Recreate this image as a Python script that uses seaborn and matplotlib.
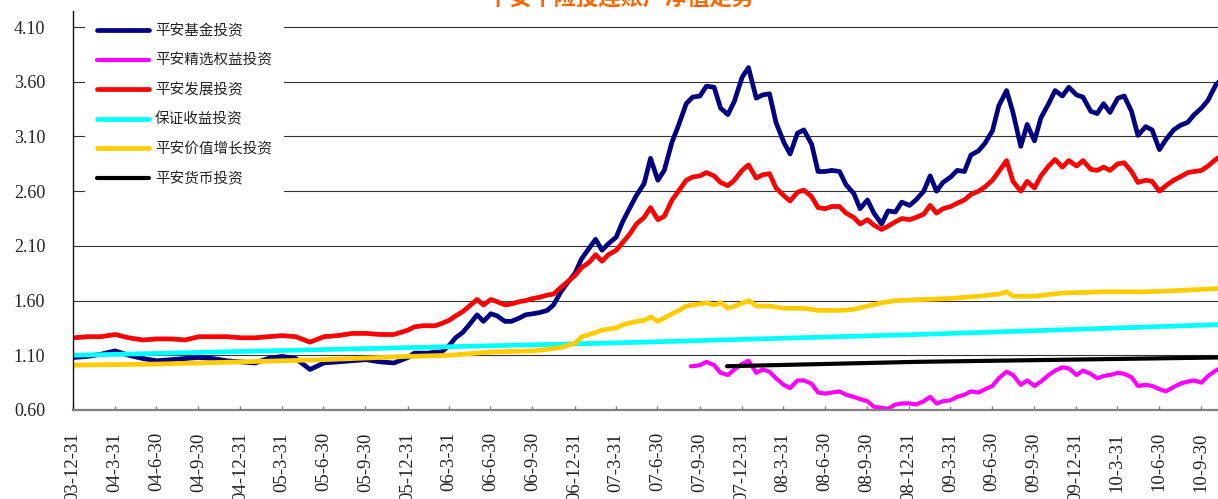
import matplotlib
matplotlib.use('Agg')
import matplotlib.pyplot as plt
import seaborn as sns
import pandas as pd

sns.set_style('white')
plt.rcParams['font.family'] = ['Noto Sans CJK SC', 'DejaVu Sans']

title = '平安个险投连账户净值走势'

# blue / red share one date grid: monthly 2004-2005, then 1st and 15th of each month
main_dates = list(pd.date_range('2004-01-01', '2005-12-01', freq='MS')) + \
    list(pd.date_range('2006-01-01', '2010-11-15', freq='SMS'))

fund = [1.08, 1.09, 1.11, 1.14, 1.10, 1.07, 1.05, 1.06, 1.07, 1.08, 1.07, 1.05,
        1.04, 1.03, 1.07, 1.09, 1.07, 0.97, 1.03, 1.04, 1.05, 1.06, 1.04, 1.03,
        # 2006
        1.08, 1.12, 1.12, 1.12, 1.13, 1.13, 1.19, 1.26, 1.31, 1.38, 1.47, 1.41,
        1.48, 1.46, 1.41, 1.41, 1.44, 1.47, 1.48, 1.49, 1.51, 1.56, 1.68, 1.76,
        # 2007
        1.85, 1.98, 2.08, 2.16, 2.06, 2.12, 2.18, 2.32, 2.45, 2.56, 2.67, 2.90,
        2.70, 2.79, 3.05, 3.20, 3.40, 3.46, 3.47, 3.56, 3.55, 3.36, 3.30, 3.42,
        # 2008
        3.64, 3.73, 3.45, 3.48, 3.49, 3.23, 3.05, 2.94, 3.13, 3.16, 3.03, 2.78,
        2.78, 2.79, 2.78, 2.66, 2.58, 2.44, 2.52, 2.40, 2.30, 2.42, 2.41, 2.50,
        # 2009
        2.47, 2.52, 2.60, 2.74, 2.60, 2.68, 2.73, 2.79, 2.78, 2.93, 2.97, 3.04,
        3.15, 3.38, 3.52, 3.32, 3.01, 3.21, 3.06, 3.27, 3.40, 3.52, 3.47, 3.55,
        # 2010
        3.48, 3.46, 3.33, 3.31, 3.40, 3.32, 3.45, 3.47, 3.33, 3.11, 3.19, 3.16,
        2.98, 3.07, 3.16, 3.20, 3.23, 3.30, 3.36, 3.43, 3.57, 3.63]

growth = [1.26, 1.27, 1.27, 1.29, 1.26, 1.24, 1.25, 1.25, 1.24, 1.27, 1.27, 1.27,
          1.26, 1.26, 1.27, 1.28, 1.27, 1.22, 1.27, 1.28, 1.30, 1.30, 1.29, 1.29,
          # 2006
          1.33, 1.36, 1.37, 1.37, 1.37, 1.39, 1.42, 1.46, 1.50, 1.55, 1.61, 1.56,
          1.61, 1.59, 1.56, 1.57, 1.59, 1.60, 1.62, 1.63, 1.65, 1.66, 1.72, 1.77,
          # 2007
          1.83, 1.90, 1.95, 2.02, 1.96, 2.02, 2.06, 2.13, 2.21, 2.30, 2.36, 2.45,
          2.34, 2.37, 2.52, 2.60, 2.70, 2.73, 2.74, 2.77, 2.74, 2.68, 2.65, 2.70,
          # 2008
          2.79, 2.84, 2.72, 2.75, 2.76, 2.63, 2.56, 2.51, 2.59, 2.61, 2.55, 2.45,
          2.44, 2.46, 2.46, 2.40, 2.36, 2.30, 2.34, 2.29, 2.25, 2.28, 2.32, 2.35,
          # 2009
          2.34, 2.36, 2.39, 2.47, 2.40, 2.44, 2.46, 2.49, 2.52, 2.57, 2.60, 2.64,
          2.70, 2.78, 2.88, 2.69, 2.60, 2.69, 2.63, 2.74, 2.83, 2.89, 2.82, 2.88,
          # 2010
          2.83, 2.88, 2.80, 2.79, 2.82, 2.79, 2.85, 2.86, 2.78, 2.68, 2.70, 2.69,
          2.60, 2.65, 2.70, 2.73, 2.77, 2.78, 2.79, 2.83, 2.89, 2.93]

select_dates = [pd.Timestamp('2007-09-11')] + list(pd.date_range('2007-09-15', '2010-11-15', freq='SMS'))
select = [1.00,
          1.00, 1.01, 1.04, 1.01, 0.94, 0.92, 0.97,
          1.02, 1.05, 0.94, 0.97, 0.95, 0.89, 0.83, 0.80, 0.87, 0.87, 0.84, 0.76,
          0.75, 0.76, 0.77, 0.74, 0.72, 0.70, 0.68, 0.63, 0.62, 0.61, 0.65, 0.66,
          0.66, 0.65, 0.68, 0.72, 0.66, 0.68, 0.69, 0.72, 0.74, 0.77, 0.76, 0.79,
          0.82, 0.89, 0.95, 0.92, 0.83, 0.87, 0.82, 0.86, 0.92, 0.96, 0.99, 0.98,
          0.92, 0.96, 0.93, 0.89, 0.91, 0.92, 0.94, 0.93, 0.90, 0.82, 0.83, 0.82,
          0.79, 0.77, 0.81, 0.84, 0.86, 0.87, 0.85, 0.91, 0.96, 0.99]

value_dates = ['2003-12-31', '2004-07-01', '2005-01-01', '2005-07-01', '2006-01-01',
               '2006-04-01', '2006-07-01', '2006-10-01', '2006-12-01', '2007-01-01',
               '2007-01-16', '2007-02-16', '2007-03-01', '2007-04-01', '2007-04-16',
               '2007-05-16', '2007-06-01', '2007-06-16', '2007-07-01', '2007-08-01',
               '2007-08-16', '2007-09-01', '2007-10-01', '2007-10-16', '2007-11-01',
               '2007-11-16', '2007-12-01', '2007-12-16', '2008-01-16', '2008-02-01',
               '2008-03-01', '2008-04-01', '2008-05-16', '2008-06-16', '2008-08-01',
               '2008-09-01', '2008-10-01', '2008-11-01', '2008-12-01', '2009-02-01',
               '2009-04-01', '2009-06-01', '2009-07-16', '2009-08-01', '2009-08-16',
               '2009-10-01', '2009-12-01', '2010-03-01', '2010-06-01', '2010-08-01',
               '2010-11-06']
value = [1.01, 1.02, 1.04, 1.06, 1.09, 1.10, 1.13, 1.14, 1.17, 1.21,
         1.27, 1.31, 1.33, 1.35, 1.38, 1.41, 1.42, 1.45, 1.41, 1.48,
         1.51, 1.55, 1.57, 1.58, 1.56, 1.58, 1.53, 1.55, 1.60, 1.55,
         1.55, 1.53, 1.53, 1.51, 1.51, 1.52, 1.55, 1.58, 1.60, 1.61,
         1.62, 1.64, 1.66, 1.68, 1.64, 1.64, 1.67, 1.68, 1.68, 1.69,
         1.71]

guaranteed_dates = ['2003-12-31', '2005-12-31', '2007-03-01', '2009-01-16', '2010-11-06']
guaranteed = [1.10, 1.17, 1.21, 1.29, 1.38]

money_dates = ['2007-11-29', '2009-01-16', '2010-11-06']
money = [1.00, 1.04, 1.08]

names = ['平安基金投资', '平安精选权益投资', '平安发展投资', '保证收益投资', '平安价值增长投资', '平安货币投资']
colors = ['#000080', '#FF00FF', '#FF0000', '#00FFFF', '#FFCC00', '#000000']
widths = [3.4, 3.0, 3.4, 3.4, 3.4, 3.0]

series = [(main_dates, fund), (select_dates, select), (main_dates, growth),
          (guaranteed_dates, guaranteed), (value_dates, value), (money_dates, money)]

tick_dates = ['2003-12-31', '2004-03-31', '2004-06-30', '2004-09-30', '2004-12-31',
              '2005-03-31', '2005-06-30', '2005-09-30', '2005-12-31', '2006-03-31',
              '2006-06-30', '2006-09-30', '2006-12-31', '2007-03-31', '2007-06-30',
              '2007-09-30', '2007-12-31', '2008-03-31', '2008-06-30', '2008-09-30',
              '2008-12-31', '2009-03-31', '2009-06-30', '2009-09-30', '2009-12-31',
              '2010-03-31', '2010-06-30', '2010-09-30']
tick_labels = ['03-12-31', '04-3-31', '04-6-30', '04-9-30', '04-12-31', '05-3-31',
               '05-6-30', '05-9-30', '05-12-31', '06-3-31', '06-6-30', '06-9-30',
               '06-12-31', '07-3-31', '07-6-30', '07-9-30', '07-12-31', '08-3-31',
               '08-6-30', '08-9-30', '08-12-31', '09-3-31', '09-6-30', '09-9-30',
               '09-12-31', '10-3-31', '10-6-30', '10-9-30']
y_ticks = [0.60, 1.10, 1.60, 2.10, 2.60, 3.10, 3.60, 4.10]

fig = plt.figure(figsize=(12.18, 4.99), dpi=100)
ax = fig.add_axes([73 / 1218, 89 / 499, 1 - 73 / 1218, 399 / 499])

for (d, v), name, c, w in zip(series, names, colors, widths):
    df = pd.DataFrame({'date': pd.to_datetime(d), 'nav': v})
    sns.lineplot(data=df, x='date', y='nav', ax=ax, color=c, lw=w, label=name, sort=False)

ax.set_xlim(pd.Timestamp('2003-12-31'), pd.Timestamp('2010-11-06'))
ax.set_ylim(0.60, 4.247)
ax.set_xlabel('')
ax.set_ylabel('')

ax.set_yticks(y_ticks)
ax.set_yticklabels([f'{v:.2f}' for v in y_ticks], fontfamily='Liberation Serif', fontsize=13, color='#222222')
ax.tick_params(axis='y', length=0, pad=20)
ax.yaxis.grid(True, color='#333333', lw=0.8)
ax.xaxis.grid(False)

ax.set_xticks(pd.to_datetime(tick_dates))
ax.set_xticklabels(tick_labels, rotation=90, va='top', ha='center',
                   fontfamily='Liberation Serif', fontsize=13.5, color='#222222')
ax.tick_params(axis='x', direction='in', length=3, width=1, color='#808080', pad=16, bottom=True)

for s in ['top', 'right']:
    ax.spines[s].set_visible(False)
ax.spines['bottom'].set_color('#808080')
ax.spines['bottom'].set_linewidth(1.6)
ax.spines['left'].set_color('#111111')
ax.spines['left'].set_linewidth(1.0)

leg = ax.legend(loc='upper left', bbox_to_anchor=(85 / 1218, 1 - 12 / 499),
                bbox_transform=fig.transFigure, frameon=True, fancybox=False,
                facecolor='white', edgecolor='none', framealpha=1, fontsize=10.5,
                handlelength=3.6, handletextpad=0.4, labelspacing=1.05,
                borderpad=0.8, borderaxespad=0)
for t in leg.get_texts():
    t.set_color('#222222')

fig.text(620 / 1218, 1 + 2 / 499, title, ha='center', va='center', fontsize=16,
         fontweight='bold', color='#FF6600')

fig.savefig('out.png', dpi=100)
